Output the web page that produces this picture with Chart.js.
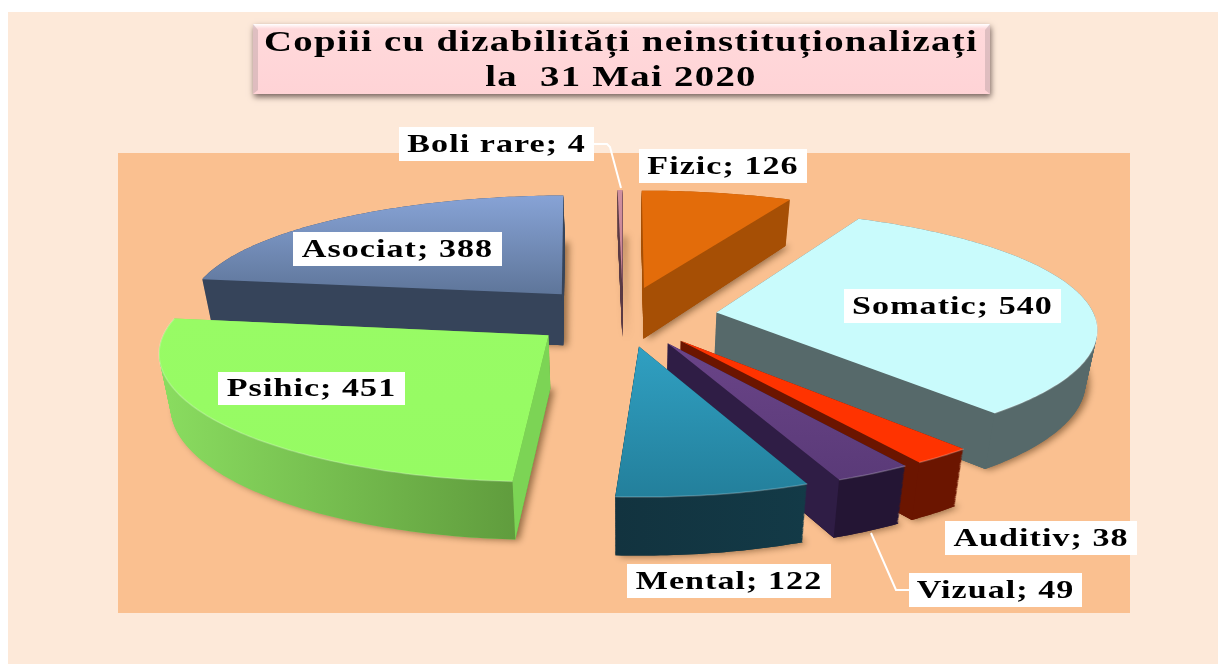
<!DOCTYPE html>
<html><head><meta charset="utf-8">
<style>html,body{margin:0;padding:0;background:#fff}canvas{display:block;filter:blur(.4px)}#w{width:1226px;height:664px;position:relative}</style>
<script src="https://cdn.jsdelivr.net/npm/chart.js@4"></script>
</head><body><div id="w"><canvas id="c" width="1226" height="664"></canvas></div>
<script>
const categories = ["Fizic","Somatic","Auditiv","Vizual","Mental","Psihic","Asociat","Boli rare"];
const values = [126,540,38,49,122,451,388,4];
const titleLines = ["Copiii cu dizabilități neinstituționalizați","la  31 Mai 2020"];
const topColors = ["#E36C0A","#C9FBFC","#FF3300","#5A3A78","#237F9B","#96FB63","#5E7599","#C98090"];
const topLight  = ["#E36C0A","#C9FBFC","#FF3300","#6A4488","#30A0C2","#98FB65","#87A3D6","#D0909F"];
const sideColors = ["#A64F05","#56696A","#6B1500","#241534","#12333F","#8ADD60","#36445A","#5A3A44"];
const sideEnd    = ["#A64F05","#56696A","#6B1500","#241534","#133A47","#5C963A","#36445A","#5A3A44"];
const radialColors = ["#A64F05","#56696A","#6B1500","#2F1D45","#133A47","#7CD455","#36445A","#5A3A44"];
const labelBoxes = [[639,149,168,34],[844,289,217,34],[945,521,192,34],[909,573,173,34],[627,564,204,34],[218,372,187,33],[293,232,209,34],[399,127,195,34]];

const view = {cx:623, cy:316, rx:378, ry:119, kx:.12, ky:.145, depth:52, taper:.025};
function proj(X,Y){return [view.cx+X*view.rx/(1+view.kx*Y), view.cy-Y*view.ry/(1+view.ky*Y)];}

const pie3d = {
  id:'pie3d',
  beforeDraw(chart){
    const c=chart.ctx;
    c.letterSpacing='1px';
    c.fillStyle='#fff';c.fillRect(0,0,1226,664);
    c.fillStyle='#FDE9D9';c.fillRect(8,12,1210,652);
    c.fillStyle='#FAC090';c.fillRect(118,153,1012,460);
    c.save();
    c.shadowColor='rgba(60,40,40,.7)';c.shadowBlur=6;c.shadowOffsetX=1;c.shadowOffsetY=3;
    const g=c.createLinearGradient(0,24,0,95);
    g.addColorStop(0,'#fff');g.addColorStop(.07,'#FFD9DB');g.addColorStop(1,'#FFD3D6');
    c.fillStyle=g;c.fillRect(253,24,737,70);
    c.restore();
    c.fillStyle='#B9A0A2';
    c.beginPath();c.moveTo(253,24);c.lineTo(258,30);c.lineTo(258,90);c.lineTo(253,94);c.closePath();c.globalAlpha=.45;c.fill();
    c.beginPath();c.moveTo(990,24);c.lineTo(985,30);c.lineTo(985,90);c.lineTo(990,94);c.closePath();c.fill();c.globalAlpha=1;
    // widen the title the library draws next, as in the reference's stretched lettering
    c.save();c.translate(621,0);c.scale(1.293,1);c.translate(-613,0);
  },
  beforeDatasetsDraw(chart){
    const c=chart.ctx, arcs=chart.getDatasetMeta(0).data;
    c.restore();
    const items=arcs.map((a,i)=>{
      const s=a.startAngle+Math.PI/2,e=a.endAngle+Math.PI/2,m=(s+e)/2,d=a.options.offset/a.outerRadius;
      const ax=d*Math.sin(m),ay=d*Math.cos(m),g=[[ax,ay]];
      const n=Math.max(2,Math.ceil((e-s)/.015));
      for(let k=0;k<=n;k++){const t=s+(e-s)*k/n;g.push([ax+Math.sin(t),ay+Math.cos(t)]);}
      return {i,ay,g};
    }).sort((p,q)=>q.ay-p.ay);
    for(const it of items){
      const pts=it.g.map(p=>{const q=proj(p[0],p[1]);return {x:q[0],y:q[1],h:view.depth*(1-.1*p[1]),Y:p[1]};});
      const xs=pts.map(p=>p.x),ys=pts.map(p=>p.y);
      const x0=Math.min(...xs),x1=Math.max(...xs),y0=Math.min(...ys),y1=Math.max(...ys);
      const at=(p,f)=>[p.x+(view.cx-p.x)*view.taper*f,p.y+p.h*f];
      const poly=f=>{c.beginPath();pts.forEach((p,k)=>{const q=at(p,f);k?c.lineTo(q[0],q[1]):c.moveTo(q[0],q[1]);});c.closePath();};
      c.save();c.shadowColor='rgba(70,40,10,.55)';c.shadowBlur=7;c.shadowOffsetX=4;c.shadowOffsetY=1;
      c.fillStyle=sideColors[it.i];poly(1);c.fill();c.restore();
      const sg=c.createLinearGradient(x0,0,x1+1,0);
      sg.addColorStop(0,sideColors[it.i]);sg.addColorStop(1,sideEnd[it.i]);
      c.fillStyle=sg;
      for(let l=50;l>=0;l--){poly(l/50);c.fill();}
      // radial walls that face the viewer
      const A=pts[0],S=pts[1],E=pts[pts.length-1];
      c.fillStyle=radialColors[it.i];
      [[S,S.x<A.x],[E,E.x>A.x]].forEach(([B,vis])=>{
        if(!vis)return;
        const a1=at(A,1),b1=at(B,1);
        c.beginPath();c.moveTo(A.x,A.y);c.lineTo(B.x,B.y);c.lineTo(b1[0],b1[1]);c.lineTo(a1[0],a1[1]);c.closePath();c.fill();
      });
      const tg=c.createLinearGradient(0,y0,0,y1+1);
      tg.addColorStop(0,topLight[it.i]);tg.addColorStop(1,topColors[it.i]);
      c.fillStyle=tg;poly(0);c.fill();
      // soft highlight along the front rim
      c.strokeStyle='rgba(255,255,255,.22)';c.lineWidth=1.5;c.beginPath();
      let on=false;
      pts.slice(1).forEach(p=>{if(p.Y<0){on?c.lineTo(p.x,p.y):c.moveTo(p.x,p.y);on=true;}else on=false;});
      c.stroke();
    }
    return false;
  },
  afterDraw(chart){
    const c=chart.ctx;
    c.strokeStyle='#fff';c.lineWidth=2;
    c.beginPath();c.moveTo(594,144);c.lineTo(607,144);c.lineTo(610,147);c.lineTo(621,188);c.stroke();
    c.beginPath();c.moveTo(871,533);c.lineTo(896,590);c.lineTo(910,590);c.stroke();
    c.letterSpacing='.8px';
    c.font="bold 26px 'Liberation Serif'";c.textAlign='center';c.textBaseline='middle';
    categories.forEach((n,i)=>{
      const b=labelBoxes[i];
      c.fillStyle='#fff';c.fillRect(b[0],b[1],b[2],b[3]);
      c.save();c.translate(b[0]+b[2]/2,b[1]+b[3]/2+1);c.scale(1.31,1);
      c.fillStyle='#000';c.fillText(n+'; '+values[i],0,0);c.restore();
    });
  }
};
new Chart(document.getElementById('c'),{
  type:'pie',
  plugins:[pie3d],
  data:{labels:categories,datasets:[{data:values,backgroundColor:topColors,borderWidth:0,offset:50}]},
  options:{
    responsive:false,animation:false,radius:200,
    layout:{padding:{top:26}},
    plugins:{legend:{display:false},tooltip:{enabled:false},
      title:{display:true,text:titleLines,color:'#000',padding:{top:0,bottom:0},
        font:{family:"'Liberation Serif'",size:30,weight:'bold',lineHeight:1.17}}}
  }
});
</script></body></html>
